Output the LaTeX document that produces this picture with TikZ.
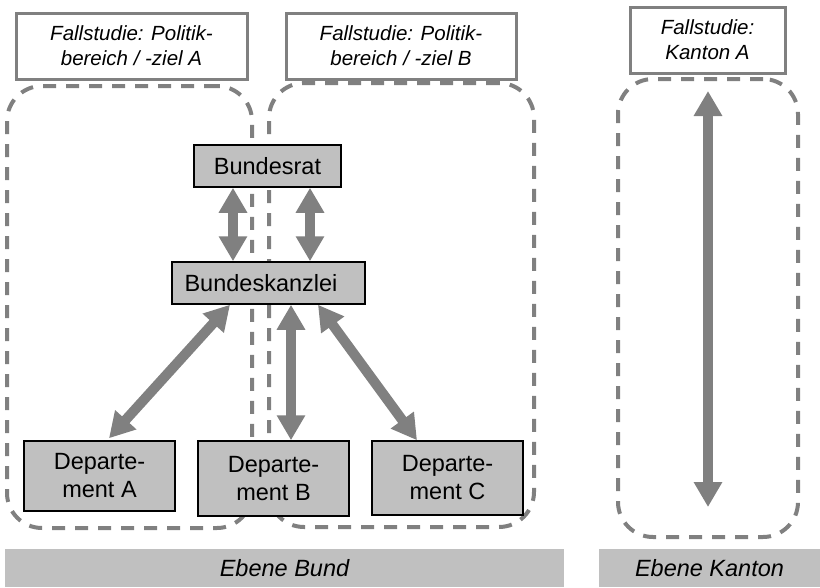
\documentclass[tikz,border=0pt]{standalone}
\usepackage{fontspec}
\setmainfont{Liberation Sans}
\usepackage{tikz}
\usetikzlibrary{arrows.meta}

\definecolor{boxgray}{RGB}{192,192,192}
\definecolor{linegray}{RGB}{128,128,128}

\begin{document}
\begin{tikzpicture}[x=1pt,y=-1pt]
\tikzstyle{unit}=[draw=black,line width=1.5pt,fill=boxgray,inner sep=0pt,align=center,font=\fontsize{23.5}{28}\selectfont]
\tikzstyle{case}=[draw=linegray,line width=3pt,fill=white,inner sep=0pt,align=center,font=\fontsize{20.5}{25}\selectfont\itshape]
\tikzstyle{region}=[draw=linegray,line width=4pt,dash pattern=on 13pt off 10pt,rounded corners=35pt,inner sep=0pt]
\tikzstyle{level}=[fill=boxgray,inner sep=0pt,font=\fontsize{23.5}{28}\selectfont\itshape]
\tikzstyle{link}=[draw=linegray,line width=10pt,{Triangle[length=25pt,width=27pt]}-{Triangle[length=25pt,width=27pt]}]

\useasboundingbox (0,0) rectangle (820,587);

% dashed case study regions, drawn first so the boxes cover them
\node (regA) [region,minimum width=245,minimum height=442] at (129.5,307) {};
\node (regB) [region,minimum width=265,minimum height=444] at (401.5,305) {};
\node (regK) [region,minimum width=180,minimum height=458] at (708,308) {};

\node (fallA) [case,minimum width=231,minimum height=66] at (131.5,46) {Fallstudie: Politik-\\bereich / -ziel A};
\node (fallB) [case,minimum width=230,minimum height=66] at (401,46) {Fallstudie: Politik-\\bereich / -ziel B};
\node (fallK) [case,minimum width=155,minimum height=66] at (707.5,40) {Fallstudie:\\Kanton A};

\node (rat) [unit,minimum width=147,minimum height=42] at (267.5,166) {Bundesrat};
\node (kanzlei) [unit,minimum width=193,minimum height=42] at (268.5,283) {Bundeskanzlei\hspace{15pt}};
\node (depA) [unit,minimum width=151,minimum height=70] at (99.5,476) {Departe-\\ment A};
\node (depB) [unit,minimum width=151,minimum height=75] at (273.5,478.5) {Departe-\\ment B};
\node (depC) [unit,minimum width=151,minimum height=74] at (447.5,478) {Departe-\\ment C};

\node (bund) [level,minimum width=559,minimum height=38] at (284.5,568) {Ebene Bund};
\node (kanton) [level,minimum width=221,minimum height=38] at (709.5,568) {Ebene Kanton};

\draw[link] ([xshift=-34.5]rat.south) -- ([xshift=-34.5]rat.south |- kanzlei.north);
\draw[link] ([xshift=42.5]rat.south) -- ([xshift=42.5]rat.south |- kanzlei.north);
\draw[link] ([xshift=-38.5]kanzlei.south) -- ([xshift=9.5,yshift=2]depA.north);
\draw[link] ([xshift=22.5]kanzlei.south) -- ([xshift=22.5]kanzlei.south |- depB.north);
\draw[link] ([xshift=49.5]kanzlei.south) -- ([xshift=-30.5]depC.north);
\draw[link] ([yshift=-14]regK.north) -- ([yshift=32]regK.south); % shifts are not flipped
\end{tikzpicture}
\end{document}
